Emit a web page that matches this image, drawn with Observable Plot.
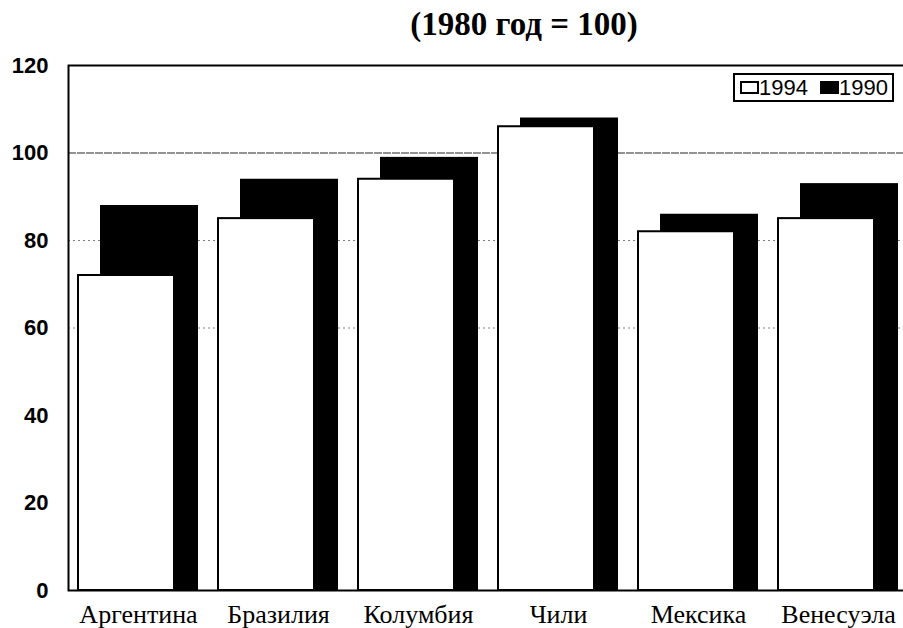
<!DOCTYPE html>
<html><head><meta charset="utf-8">
<script src="https://cdn.jsdelivr.net/npm/d3@7"></script>
<script src="https://cdn.jsdelivr.net/npm/@observablehq/plot@0.6"></script>
<style>
body{margin:0;background:#fff;}
#wrap{position:relative;width:903px;height:628px;overflow:hidden;background:#fff;}
#title{position:absolute;top:4px;left:524px;transform:translateX(-50%);height:40px;line-height:40px;white-space:nowrap;font-family:"Liberation Serif","Times New Roman",serif;font-weight:bold;font-size:33px;color:#000;}
#chart{position:absolute;left:0;top:40px;}
#legend{position:absolute;left:733px;top:73px;width:157px;height:25px;border:2px solid #000;background:#fff;display:flex;align-items:center;font-family:"Liberation Sans",Arial,sans-serif;font-size:22px;color:#000;}
.sw{display:inline-block;box-sizing:border-box;width:19px;height:13px;border:2px solid #000;}
#legend .sw:first-child{margin-left:5px;}
#legend .sw.second{margin-left:12px;}
</style></head>
<body><div id="wrap"><div id="chart"></div><div id="title">(1980 год = 100)</div><div id="legend"></div></div>
<script>
const countries = ["Аргентина","Бразилия","Колумбия","Чили","Мексика","Венесуэла"];
const values1994 = [72,85,94,106,82,85];
const values1990 = [88,94,99,108,86,93];
const yTicks = [0,20,40,60,80,100,120];
const seriesNames = ["1994","1990"];
const seriesFills = ["white","black"];

const data = countries.map((c,i)=>({country:c, v1994:values1994[i], v1990:values1990[i]}));

const plot = Plot.plot({
  width: 903, height: 588,
  marginLeft: 68, marginRight: -5, marginTop: 25, marginBottom: 38,
  style: {background:"white", overflow:"visible"},
  x: {domain: countries, padding: 0, axis: null},
  y: {domain: [0,120], axis: null},
  marks: [
    Plot.ruleY([60,80], {stroke:"#000", strokeOpacity:0.5, strokeDasharray:"2,3"}),
    Plot.ruleY([100], {stroke:"#000", strokeOpacity:0.85, strokeDasharray:"8,1"}),
    Plot.barY(data, {x:"country", y:"v1990", fill:seriesFills[1], insetLeft:32, insetRight:10}),
    Plot.barY(data, {x:"country", y:"v1994", fill:seriesFills[0], stroke:"black", strokeWidth:2, insetLeft:10, insetRight:34}),
    Plot.frame({stroke:"black", strokeWidth:2}),
    Plot.axisY({ticks:yTicks, tickSize:0, tickPadding:20, fontSize:22, fontWeight:"bold", fontFamily:"Liberation Sans, Arial, sans-serif", label:null}),
    Plot.axisX({tickSize:0, tickPadding:14, fontSize:26, fontFamily:"Liberation Serif, Times New Roman, serif", label:null})
  ]
});
document.getElementById("chart").appendChild(plot);

const lg = document.getElementById("legend");
seriesNames.forEach((n,i)=>{
  const s=document.createElement("span"); s.className="sw"+(i>0?" second":""); s.style.background=seriesFills[i];
  lg.appendChild(s);
  const t=document.createElement("span"); t.textContent=n; lg.appendChild(t);
});
</script></body></html>
